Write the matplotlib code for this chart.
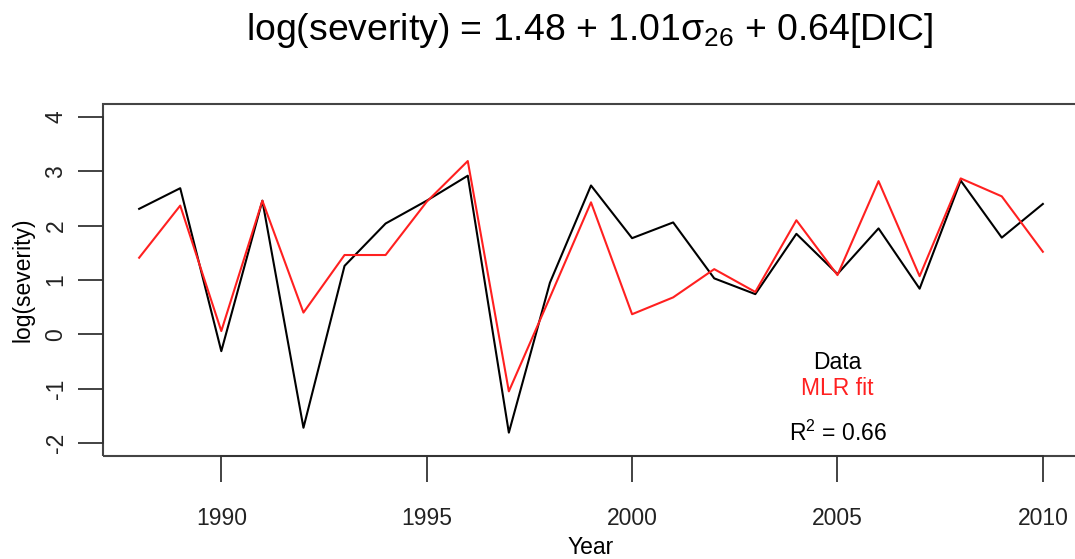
import numpy as np
import matplotlib
matplotlib.use("Agg")
import matplotlib.pyplot as plt
from matplotlib.patches import Rectangle

matplotlib.rcParams['font.family'] = ['Liberation Sans', 'DejaVu Sans']
matplotlib.rcParams['mathtext.fontset'] = 'custom'
matplotlib.rcParams['mathtext.rm'] = 'Liberation Sans'
matplotlib.rcParams['mathtext.it'] = 'Liberation Sans:italic'

# data
years = np.arange(1988, 2011)
observed = [2.31, 2.69, -0.31, 2.46, -1.72, 1.26, 2.04, 2.46, 2.92, -1.81, 0.95, 2.74,
            1.77, 2.06, 1.03, 0.74, 1.85, 1.11, 1.95, 0.84, 2.83, 1.78, 2.40]
mlr_fit = [1.41, 2.37, 0.06, 2.46, 0.40, 1.46, 1.46, 2.44, 3.19, -1.05, 0.68, 2.43,
           0.37, 0.68, 1.20, 0.78, 2.10, 1.09, 2.82, 1.07, 2.87, 2.54, 1.52]
x_ticks = [1990, 1995, 2000, 2005, 2010]
y_ticks = [-2, -1, 0, 1, 2, 3, 4]
r_squared = 0.66

fs = 16.5
fig = plt.figure(figsize=(10.75, 5.59), dpi=100)
ax = fig.add_axes([103/1075, 103/559, 976/1075, 352/559])

ax.plot(years, observed, color="black", linewidth=1.5)
ax.plot(years, mlr_fit, color="#ff2020", linewidth=1.5)

# R style axis ranges (4% padding)
ax.set_xlim(1987.12, 2010.88)
ax.set_ylim(-2.24, 4.24)

for s in ['top', 'right']:
    ax.spines[s].set_visible(False)
ax.spines['bottom'].set_bounds(x_ticks[0], x_ticks[-1])
ax.spines['left'].set_bounds(y_ticks[0], y_ticks[-1])
for s in ['bottom', 'left']:
    ax.spines[s].set_linewidth(1.3)
    ax.spines[s].set_color("#333333")
ax.add_patch(Rectangle((0, 0), 1, 1, transform=ax.transAxes, fill=False,
                       edgecolor="#444444", linewidth=1.5, clip_on=False))

ax.set_xticks(x_ticks)
ax.set_yticks(y_ticks)
ax.set_yticklabels([str(v) for v in y_ticks], rotation=90, va='center')
ax.tick_params(axis='x', length=19, width=1.2, pad=18, labelsize=fs, colors="#222222")
ax.tick_params(axis='y', length=18, width=1.2, pad=7.5, labelsize=fs, colors="#222222")

ax.set_xlabel("Year", fontsize=fs, labelpad=4)
ax.set_ylabel("log(severity)", fontsize=fs, labelpad=7)

fig.text(0.549, 0.945, r"log(severity) = 1.48 + 1.01σ$_{26}$ + 0.64[DIC]",
         ha='center', va='center', fontsize=26.9)

ax.text(2005, -0.52, "Data", ha='center', va='center', fontsize=fs, color="black")
ax.text(2005, -0.99, "MLR fit", ha='center', va='center', fontsize=fs, color="#ff2020")
ax.text(2005, -1.83, r"R$^2$ = " + f"{r_squared:.2f}", ha='center', va='center',
        fontsize=fs, color="black")

plt.savefig("out.png", dpi=100)
